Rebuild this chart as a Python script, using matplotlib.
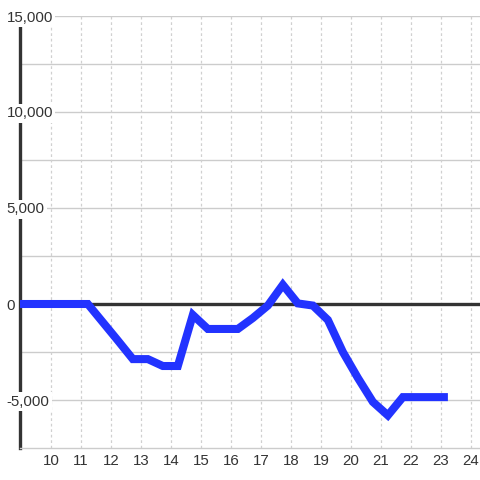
import matplotlib
matplotlib.use("Agg")
import matplotlib.pyplot as plt
from matplotlib.ticker import FuncFormatter

plt.rcParams['font.family'] = ['Liberation Sans', 'DejaVu Sans']
plt.rcParams['axes.unicode_minus'] = False

hours = [8.73, 9.23, 9.73, 10.23, 10.73, 11.23, 11.73, 12.23, 12.73, 13.23, 13.73, 14.23,
         14.73, 15.23, 15.73, 16.23, 16.73, 17.23, 17.73, 18.23, 18.73, 19.23, 19.73,
         20.23, 20.73, 21.23, 21.73, 22.23, 22.73, 23.23]
values = [0, 0, 0, 0, 0, 0, -950, -1900, -2870, -2870, -3230, -3230,
          -570, -1300, -1300, -1300, -730, -80, 1000, 30, -80, -830, -2500,
          -3850, -5100, -5800, -4850, -4850, -4850, -4850]
x_ticks = list(range(10, 25))
y_ticks = [-5000, 0, 5000, 10000, 15000]

fig = plt.figure(figsize=(4.8, 4.8), dpi=100)
ax = fig.add_axes([20/480, 32/480, 460/480, 432/480])
ax.set_xlim(8.97, 24.3)
ax.set_ylim(-7500, 15000)

# grid
for yv in [-5000, -2500, 2500, 5000, 7500, 10000, 12500, 15000]:
    ax.axhline(yv, color='#cccccc', lw=1, zorder=1)
for xv in x_ticks:
    ax.axvline(xv, color='#d0d0d0', lw=0.9, ls=(0, (2.2, 2.2)), zorder=1)
ax.axhline(0, color='#333333', lw=2.4, zorder=2)

ax.plot(hours, values, color='#2233ff', lw=5.8, solid_joinstyle='miter',
        solid_capstyle='butt', zorder=3)

for s in ['top', 'right']:
    ax.spines[s].set_visible(False)
ax.spines['bottom'].set_color('#cccccc')
ax.spines['bottom'].set_linewidth(1)
ax.spines['left'].set_color('#333333')
ax.spines['left'].set_linewidth(2.4)
ax.spines['left'].set_bounds(-7500, 14600)
ax.spines['left'].set_zorder(2.5)

ax.set_xticks(x_ticks)
ax.set_yticks(y_ticks)
ax.yaxis.set_major_formatter(FuncFormatter(lambda v, p: f"{int(v):,}"))
ax.tick_params(axis='x', length=0, pad=4, labelsize=10.8, labelcolor='#333333')
ax.tick_params(axis='y', length=0, pad=9.5, labelsize=10.8, labelcolor='#333333')
ax.yaxis.set_zorder(4)
for lab in ax.get_yticklabels():
    lab.set_horizontalalignment('left')
    lab.set_bbox(dict(facecolor='white', edgecolor='none', pad=1.5))

fig.savefig('out.png', dpi=100)
